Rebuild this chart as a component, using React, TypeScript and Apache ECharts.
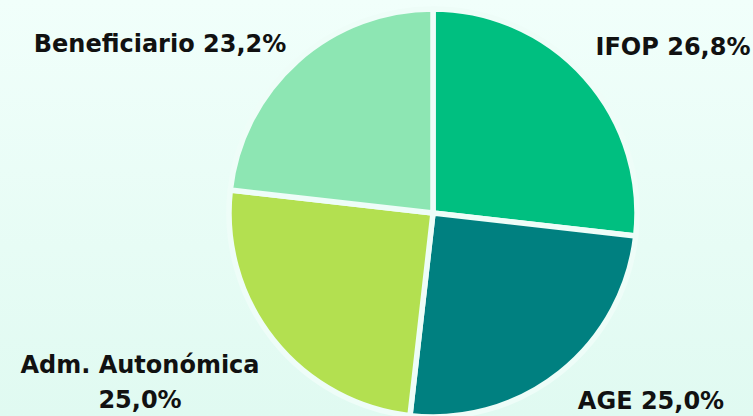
import React, { useEffect, useRef } from "react";
import * as echarts from "echarts";

const categories = ["IFOP", "AGE", "Adm. Autonómica", "Beneficiario"];
const values = [26.8, 25.0, 25.0, 23.2];
const colors = ["#00BF80", "#008080", "#B3E050", "#8DE6B3"];
// label anchor centres (x, y) in px
const labelCenters: [number, number][] = [
  [673, 47],
  [651, 401],
  [140, 382],
  [160, 44],
];

export default function App() {
  const ref = useRef<HTMLDivElement>(null);
  useEffect(() => {
    if (!ref.current) return;
    const chart = echarts.init(ref.current, undefined, { renderer: "svg" });
    chart.setOption({
      animation: false,
      backgroundColor: {
        type: "linear",
        x: 0,
        y: 0,
        x2: 0,
        y2: 1,
        colorStops: [
          { offset: 0, color: "#F1FFFB" },
          { offset: 1, color: "#E0FAF1" },
        ],
      },
      series: [
        {
          type: "pie",
          center: [433, 213],
          radius: [0, 204],
          startAngle: 90,
          clockwise: true,
          avoidLabelOverlap: false,
          itemStyle: { borderColor: "#EEFDF8", borderWidth: 5.5 },
          label: {
            show: true,
            position: "outside",
            fontFamily: "DejaVu Sans",
            fontWeight: "bold",
            fontSize: 24,
            color: "#111111",
            lineHeight: 35,
            align: "center",
            formatter: (p: any) => {
              const pct = (p.value as number).toFixed(1).replace(".", ",") + "%";
              return p.name.length > 12 ? p.name + "\n" + pct : p.name + " " + pct;
            },
          },
          labelLine: { show: false },
          labelLayout: (params: any) => {
            const c = labelCenters[params.dataIndex];
            return {
              x: c[0],
              y: c[1],
              align: "center",
              verticalAlign: "middle",
            };
          },
          data: categories.map((name, i) => ({
            name,
            value: values[i],
            itemStyle: { color: colors[i] },
          })),
        },
      ],
    });
    return () => chart.dispose();
  }, []);
  return (
    <div
      ref={ref}
      style={{ position: "absolute", left: 0, top: 0, width: 753, height: 416 }}
    />
  );
}
